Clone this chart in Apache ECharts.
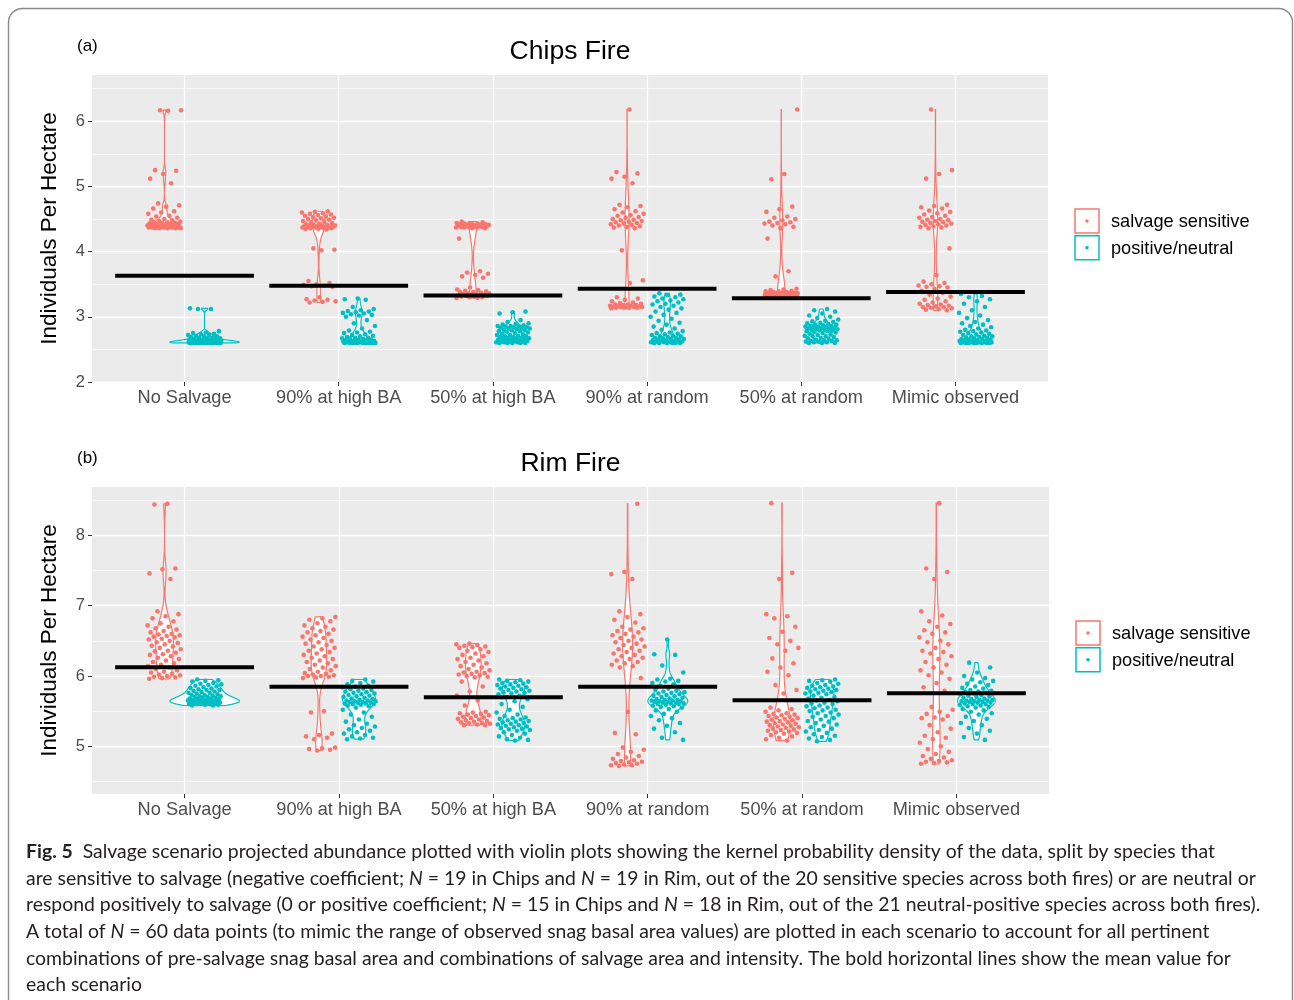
<!DOCTYPE html>
<html><head><meta charset="utf-8">
<script src="https://cdn.jsdelivr.net/npm/echarts@6/dist/echarts.min.js"></script>
<style>html,body{margin:0;padding:0;background:#fff}#c{width:1294px;height:1000px}</style>
</head><body><div id="c"></div>
<script>
// ---------------- DATA ----------------
const scenarios = ['No Salvage','90% at high BA','50% at high BA','90% at random','50% at random','Mimic observed'];
const groups = ['salvage sensitive','positive/neutral'];
const groupColors = ['#F8766D','#00BFC4'];
const chipsYTicks = [2,3,4,5,6];
const chipsYMinor = [2.5,3.5,4.5,5.5,6.5];
const rimYTicks = [5,6,7,8];
const rimYMinor = [4.5,5.5,6.5,7.5,8.5];

// Chips Fire, salvage sensitive species (60 values per scenario)
const chipsSensitive = [
 [6.17,6.17,6.16,5.25,5.24,5.19,5.12,5.05,4.74,4.71,4.69,4.66,4.62,4.60,4.58,4.55,4.54,4.52,4.50,4.49,4.48,4.47,4.46,4.45,4.45,4.44,4.44,4.43,4.43,4.42,4.42,4.41,4.41,4.41,4.40,4.40,4.40,4.40,4.39,4.39,4.39,4.39,4.38,4.38,4.38,4.38,4.38,4.37,4.37,4.37,4.37,4.37,4.37,4.37,4.37,4.36,4.36,4.36,4.36,4.36],
 [4.62,4.61,4.60,4.59,4.58,4.57,4.56,4.55,4.54,4.53,4.52,4.51,4.50,4.49,4.48,4.47,4.46,4.45,4.44,4.43,4.42,4.41,4.41,4.40,4.40,4.40,4.39,4.39,4.39,4.38,4.38,4.38,4.38,4.37,4.37,4.37,4.37,4.36,4.36,4.36,4.35,4.35,4.34,4.05,4.03,4.02,3.55,3.52,3.50,3.49,3.48,3.47,3.46,3.30,3.27,3.26,3.25,3.24,3.23,3.22],
 [4.46,4.45,4.44,4.44,4.43,4.43,4.42,4.42,4.42,4.41,4.41,4.41,4.40,4.40,4.40,4.40,4.39,4.39,4.39,4.39,4.38,4.38,4.38,4.38,4.37,4.37,4.37,4.36,4.36,4.20,3.70,3.68,3.66,3.64,3.62,3.60,3.45,3.42,3.41,3.40,3.39,3.38,3.38,3.37,3.36,3.36,3.35,3.35,3.34,3.34,3.33,3.33,3.32,3.32,3.31,3.31,3.30,3.30,3.29,3.29],
 [6.18,5.22,5.20,5.15,5.12,5.05,4.72,4.70,4.68,4.65,4.62,4.60,4.58,4.56,4.55,4.53,4.52,4.50,4.49,4.48,4.47,4.46,4.45,4.44,4.43,4.42,4.41,4.40,4.39,4.38,4.37,4.36,4.02,3.56,3.52,3.30,3.28,3.26,3.24,3.22,3.21,3.20,3.19,3.19,3.18,3.18,3.17,3.17,3.16,3.16,3.16,3.15,3.15,3.15,3.15,3.14,3.14,3.14,3.14,3.13],
 [6.18,5.19,5.11,4.69,4.65,4.61,4.54,4.52,4.50,4.48,4.46,4.45,4.44,4.43,4.42,4.40,4.38,4.36,4.20,3.70,3.62,3.43,3.42,3.41,3.40,3.39,3.39,3.38,3.38,3.37,3.37,3.37,3.36,3.36,3.36,3.36,3.35,3.35,3.35,3.35,3.35,3.34,3.34,3.34,3.34,3.34,3.34,3.34,3.33,3.33,3.33,3.33,3.33,3.33,3.32,3.32,3.32,3.31,3.31,3.30],
 [6.18,5.25,5.19,5.12,4.72,4.70,4.68,4.66,4.63,4.61,4.59,4.57,4.55,4.53,4.52,4.50,4.49,4.48,4.47,4.46,4.45,4.44,4.43,4.42,4.41,4.40,4.39,4.38,4.37,4.36,4.05,3.64,3.54,3.52,3.50,3.48,3.47,3.46,3.45,3.43,3.40,3.37,3.34,3.31,3.28,3.26,3.24,3.22,3.20,3.19,3.18,3.17,3.16,3.15,3.15,3.14,3.13,3.12,3.11,3.10]
];
// Chips Fire, positive/neutral species
const chipsPositive = [
 [3.13,3.12,3.12,2.78,2.76,2.75,2.74,2.73,2.72,2.72,2.71,2.70,2.70,2.69,2.68,2.68,2.67,2.67,2.66,2.66,2.65,2.65,2.65,2.64,2.64,2.64,2.63,2.63,2.63,2.63,2.62,2.62,2.62,2.62,2.62,2.61,2.61,2.61,2.61,2.61,2.61,2.61,2.61,2.61,2.60,2.60,2.60,2.60,2.60,2.60,2.60,2.60,2.60,2.60,2.60,2.60,2.60,2.60,2.60,2.60],
 [3.28,3.27,3.26,3.15,3.12,3.10,3.09,3.08,3.07,3.06,3.05,3.04,3.03,3.02,3.00,2.95,2.90,2.86,2.82,2.79,2.77,2.76,2.75,2.73,2.72,2.71,2.70,2.69,2.68,2.68,2.67,2.66,2.66,2.65,2.65,2.64,2.64,2.63,2.63,2.63,2.62,2.62,2.62,2.62,2.61,2.61,2.61,2.61,2.61,2.60,2.60,2.60,2.60,2.60,2.60,2.60,2.60,2.60,2.60,2.60],
 [3.08,3.07,3.05,2.95,2.92,2.90,2.89,2.88,2.87,2.86,2.86,2.85,2.85,2.84,2.84,2.83,2.83,2.82,2.82,2.81,2.80,2.80,2.79,2.78,2.78,2.77,2.76,2.75,2.74,2.73,2.72,2.72,2.71,2.70,2.70,2.69,2.69,2.68,2.68,2.67,2.67,2.66,2.66,2.65,2.65,2.64,2.64,2.63,2.63,2.62,2.62,2.62,2.61,2.61,2.61,2.60,2.60,2.60,2.60,2.60],
 [3.36,3.34,3.33,3.31,3.30,3.28,3.27,3.25,3.24,3.22,3.20,3.19,3.17,3.15,3.13,3.11,3.08,3.06,3.03,3.00,2.97,2.94,2.91,2.88,2.85,2.82,2.80,2.78,2.76,2.75,2.74,2.73,2.72,2.71,2.70,2.70,2.69,2.68,2.68,2.67,2.66,2.66,2.65,2.65,2.64,2.64,2.63,2.63,2.62,2.62,2.62,2.61,2.61,2.61,2.60,2.60,2.60,2.60,2.60,2.60],
 [3.12,3.10,3.08,3.05,3.02,3.00,2.98,2.96,2.94,2.93,2.92,2.91,2.90,2.89,2.88,2.88,2.87,2.86,2.86,2.85,2.85,2.84,2.84,2.83,2.83,2.82,2.82,2.81,2.81,2.80,2.80,2.79,2.79,2.78,2.78,2.77,2.76,2.75,2.74,2.73,2.72,2.71,2.70,2.70,2.69,2.68,2.67,2.66,2.65,2.64,2.64,2.63,2.63,2.62,2.62,2.61,2.61,2.60,2.60,2.60],
 [3.35,3.32,3.30,3.27,3.24,3.20,3.15,3.10,3.06,3.02,2.98,2.95,2.92,2.90,2.88,2.86,2.84,2.82,2.80,2.79,2.78,2.77,2.76,2.75,2.74,2.73,2.72,2.71,2.70,2.70,2.69,2.68,2.68,2.67,2.66,2.66,2.65,2.65,2.64,2.64,2.63,2.63,2.63,2.62,2.62,2.62,2.62,2.61,2.61,2.61,2.61,2.61,2.60,2.60,2.60,2.60,2.60,2.60,2.60,2.60]
];
// Rim Fire, salvage sensitive species
const rimSensitive = [
 [8.45,8.44,7.53,7.52,7.46,7.38,6.92,6.88,6.85,6.82,6.78,6.75,6.72,6.70,6.68,6.66,6.64,6.62,6.60,6.59,6.58,6.57,6.56,6.55,6.53,6.52,6.50,6.48,6.47,6.45,6.43,6.42,6.40,6.38,6.36,6.35,6.33,6.31,6.30,6.28,6.26,6.24,6.22,6.20,6.18,6.16,6.14,6.12,6.10,6.08,6.06,6.05,6.03,6.02,6.01,6.00,5.99,5.98,5.97,5.96],
 [6.84,6.82,6.80,6.78,6.75,6.72,6.70,6.68,6.66,6.64,6.62,6.60,6.58,6.56,6.54,6.52,6.50,6.48,6.46,6.44,6.42,6.40,6.38,6.36,6.34,6.32,6.30,6.28,6.26,6.24,6.22,6.20,6.18,6.16,6.14,6.12,6.10,6.08,6.06,6.04,6.03,6.02,6.01,6.00,6.00,5.99,5.98,5.97,5.50,5.48,5.18,5.16,5.14,5.12,5.10,4.98,4.97,4.96,4.95,4.94],
 [6.46,6.45,6.44,6.43,6.42,6.41,6.40,6.38,6.36,6.34,6.32,6.30,6.28,6.26,6.24,6.22,6.20,6.18,6.16,6.14,6.12,6.10,6.08,6.06,6.05,6.04,6.03,6.02,6.01,6.00,5.99,5.98,5.92,5.85,5.78,5.72,5.65,5.58,5.49,5.48,5.47,5.46,5.45,5.44,5.43,5.42,5.41,5.40,5.39,5.38,5.37,5.36,5.35,5.34,5.33,5.33,5.32,5.31,5.30,5.30],
 [8.45,7.48,7.45,7.38,6.92,6.88,6.84,6.80,6.76,6.70,6.68,6.66,6.64,6.62,6.60,6.58,6.56,6.54,6.52,6.50,6.48,6.46,6.44,6.42,6.40,6.38,6.36,6.34,6.32,6.30,6.28,6.26,6.24,6.22,6.20,6.18,6.16,6.14,6.12,5.97,5.49,5.19,5.17,4.98,4.95,4.92,4.89,4.86,4.84,4.82,4.80,4.79,4.78,4.77,4.76,4.75,4.74,4.73,4.73,4.72],
 [8.46,7.47,7.38,6.88,6.85,6.82,6.70,6.63,6.54,6.50,6.45,6.40,6.36,6.25,6.18,6.12,6.06,6.01,5.87,5.80,5.75,5.55,5.53,5.51,5.49,5.47,5.46,5.45,5.44,5.43,5.42,5.41,5.40,5.39,5.38,5.37,5.36,5.35,5.34,5.33,5.32,5.31,5.30,5.29,5.28,5.27,5.26,5.25,5.24,5.23,5.22,5.21,5.20,5.19,5.18,5.16,5.14,5.12,5.10,5.08],
 [8.46,7.53,7.48,7.38,6.92,6.86,6.78,6.74,6.70,6.65,6.62,6.60,6.55,6.50,6.48,6.45,6.40,6.36,6.34,6.32,6.28,6.24,6.20,6.16,6.12,6.08,6.05,6.01,5.96,5.90,5.84,5.79,5.56,5.52,5.49,5.46,5.43,5.41,5.40,5.38,5.30,5.25,5.20,5.15,5.12,5.10,5.05,5.00,4.96,4.92,4.89,4.86,4.84,4.82,4.80,4.79,4.78,4.77,4.76,4.75]
];
// Rim Fire, positive/neutral species
const rimPositive = [
 [5.95,5.94,5.93,5.92,5.90,5.89,5.88,5.87,5.86,5.85,5.84,5.83,5.82,5.81,5.80,5.80,5.79,5.78,5.77,5.76,5.76,5.75,5.74,5.73,5.73,5.72,5.71,5.71,5.70,5.70,5.69,5.69,5.68,5.68,5.67,5.67,5.66,5.66,5.65,5.65,5.65,5.64,5.64,5.64,5.63,5.63,5.63,5.62,5.62,5.62,5.61,5.61,5.61,5.60,5.60,5.60,5.59,5.59,5.58,5.58],
 [5.95,5.93,5.92,5.90,5.88,5.86,5.85,5.84,5.82,5.81,5.80,5.79,5.78,5.77,5.76,5.75,5.74,5.73,5.72,5.71,5.70,5.69,5.68,5.67,5.66,5.65,5.65,5.64,5.64,5.63,5.63,5.62,5.62,5.61,5.61,5.60,5.60,5.59,5.58,5.57,5.55,5.52,5.48,5.45,5.42,5.38,5.35,5.32,5.30,5.28,5.26,5.24,5.22,5.20,5.18,5.16,5.14,5.12,5.11,5.10],
 [5.95,5.94,5.93,5.92,5.91,5.90,5.89,5.88,5.87,5.86,5.85,5.84,5.83,5.82,5.81,5.80,5.79,5.78,5.77,5.76,5.75,5.74,5.72,5.70,5.67,5.64,5.60,5.56,5.52,5.48,5.45,5.43,5.41,5.40,5.39,5.38,5.37,5.36,5.35,5.34,5.33,5.32,5.31,5.30,5.29,5.28,5.27,5.26,5.25,5.24,5.23,5.22,5.20,5.18,5.16,5.14,5.12,5.10,5.09,5.08],
 [6.52,6.31,6.30,6.15,6.05,5.96,5.95,5.93,5.92,5.90,5.88,5.86,5.84,5.82,5.80,5.79,5.78,5.77,5.76,5.75,5.74,5.73,5.72,5.71,5.70,5.69,5.68,5.67,5.66,5.66,5.65,5.65,5.64,5.64,5.63,5.63,5.62,5.62,5.61,5.61,5.60,5.60,5.59,5.58,5.57,5.56,5.55,5.53,5.51,5.49,5.46,5.43,5.40,5.37,5.33,5.29,5.25,5.20,5.12,5.09],
 [5.95,5.94,5.93,5.92,5.90,5.89,5.87,5.86,5.85,5.84,5.83,5.82,5.81,5.80,5.79,5.78,5.77,5.76,5.75,5.74,5.72,5.70,5.69,5.68,5.66,5.65,5.64,5.62,5.61,5.60,5.58,5.57,5.55,5.54,5.52,5.51,5.50,5.48,5.47,5.45,5.43,5.42,5.40,5.38,5.36,5.35,5.33,5.31,5.29,5.27,5.25,5.23,5.21,5.19,5.17,5.15,5.13,5.11,5.09,5.07],
 [6.19,6.12,6.05,6.00,5.97,5.95,5.93,5.91,5.89,5.87,5.85,5.83,5.82,5.80,5.79,5.78,5.77,5.76,5.75,5.74,5.73,5.72,5.71,5.70,5.69,5.68,5.67,5.66,5.66,5.65,5.65,5.64,5.64,5.63,5.63,5.62,5.62,5.61,5.60,5.60,5.59,5.58,5.57,5.56,5.55,5.53,5.51,5.49,5.47,5.45,5.42,5.39,5.36,5.33,5.30,5.26,5.22,5.18,5.13,5.09]
];

const captionLines = [
 '{b|Fig. 5}  Salvage scenario projected abundance plotted with violin plots showing the kernel probability density of the data, split by species that',
 'are sensitive to salvage (negative coefficient; {i|N} = 19 in Chips and {i|N} = 19 in Rim, out of the 20 sensitive species across both fires) or are neutral or',
 'respond positively to salvage (0 or positive coefficient; {i|N} = 15 in Chips and {i|N} = 18 in Rim, out of the 21 neutral-positive species across both fires).',
 'A total of {i|N} = 60 data points (to mimic the range of observed snag basal area values) are plotted in each scenario to account for all pertinent',
 'combinations of pre-salvage snag basal area and combinations of salvage area and intensity. The bold horizontal lines show the mean value for',
 'each scenario'
];

// ---------------- HELPERS ----------------
const FONT = '"Liberation Sans", Arial, Helvetica, sans-serif';
const CAPFONT = 'Lato, "Open Sans", sans-serif';
function quantile(s, p){ const h=(s.length-1)*p, lo=Math.floor(h), hi=Math.ceil(h); return s[lo]+(h-lo)*(s[hi]-s[lo]); }
function bwNrd0(v){
  const n=v.length, m=v.reduce((a,b)=>a+b,0)/n;
  const sd=Math.sqrt(v.reduce((a,b)=>a+(b-m)*(b-m),0)/(n-1));
  const s=[...v].sort((a,b)=>a-b);
  const iqr=quantile(s,0.75)-quantile(s,0.25);
  let lo=Math.min(sd, iqr/1.34);
  if(!(lo>0)) lo = sd || 1;
  return 0.9*lo*Math.pow(n,-0.2);
}
function kde(v){
  const bw=bwNrd0(v), mn=Math.min(...v), mx=Math.max(...v), K=300, out=[];
  for(let k=0;k<K;k++){
    const y=mn+(mx-mn)*k/(K-1); let d=0;
    for(const x of v){ const z=(y-x)/bw; d+=Math.exp(-0.5*z*z); }
    out.push([y, d/(v.length*bw*Math.sqrt(2*Math.PI))]);
  }
  return out;
}
const mean = a => a.reduce((s,x)=>s+x,0)/a.length;
const DODGE = 0.13, VHALF = 0.225, JIT = 0.11, MEANHALF = 0.45;
function jitter(k){ return (((k*0.6180339887 + 0.37) % 1) - 0.5) * 2 * JIT; }

const panels = [
  {tag:'(a)', title:'Chips Fire', groupsData:[chipsSensitive, chipsPositive], yMin:2, yMax:6.71, ticks:chipsYTicks, minor:chipsYMinor, top:75, height:307, left:92, width:956},
  {tag:'(b)', title:'Rim Fire', groupsData:[rimSensitive, rimPositive], yMin:4.32, yMax:8.69, ticks:rimYTicks, minor:rimYMinor, top:487, height:307, left:92, width:957}
];

const grid=[], xAxis=[], yAxis=[], series=[], graphic=[];
panels.forEach((p, pi) => {
  grid.push({left:p.left, top:p.top, width:p.width, height:p.height, show:true, backgroundColor:'#EBEBEB', borderWidth:0, containLabel:false, outerBoundsMode:'none'});
  const catVals = scenarios.map((s,i)=>i+1);
  xAxis.push({type:'value', gridIndex:pi, min:0.4, max:6.6,
    axisLine:{show:false},
    axisTick:{show:true, length:4, customValues:catVals, lineStyle:{color:'#333333', width:1}},
    axisLabel:{customValues:catVals, formatter:v=>scenarios[Math.round(v)-1], color:'#4D4D4D', fontSize:18.2, fontFamily:FONT, margin:7},
    splitLine:{show:true, lineStyle:{color:'#FFFFFF', width:1.3}}});
  yAxis.push({type:'value', gridIndex:pi, min:p.yMin, max:p.yMax,
    axisLine:{show:false},
    axisTick:{show:true, length:4, customValues:p.ticks, lineStyle:{color:'#333333', width:1}},
    axisLabel:{customValues:p.ticks, color:'#4D4D4D', fontSize:16.5, fontFamily:FONT, margin:7},
    splitLine:{show:true, lineStyle:{color:'#FFFFFF', width:1.3}},
    name:'Individuals Per Hectare', nameLocation:'middle', nameGap:31, nameRotate:90,
    nameTextStyle:{color:'#000', fontSize:22.5, fontFamily:FONT}});
  yAxis.push({type:'value', gridIndex:pi, min:p.yMin, max:p.yMax, position:'left',
    axisLine:{show:false}, axisLabel:{show:false},
    axisTick:{show:false, customValues:p.minor},
    splitLine:{show:true, lineStyle:{color:'#FFFFFF', width:0.6}}});
  const yi = pi*2;
  // violins (kernel density of each group's values, trimmed to the data range)
  const violins=[];
  p.groupsData.forEach((gd, g) => gd.forEach((vals, i) => {
    violins.push({x: i+1 + (g===0?-DODGE:DODGE), curve: kde(vals), color: groupColors[g], mid: mean(vals)});
  }));
  const maxD = Math.max(...violins.map(v=>Math.max(...v.curve.map(c=>c[1]))));
  series.push({type:'custom', name:'violins'+pi, xAxisIndex:pi, yAxisIndex:yi, z:2, silent:true, clip:false,
    data: violins.map(v=>[v.x, v.mid]),
    renderItem:(params, api)=>{
      const v = violins[params.dataIndex];
      const right = v.curve.map(([y,d])=>api.coord([v.x + d/maxD*VHALF, y]));
      const left = v.curve.slice().reverse().map(([y,d])=>api.coord([v.x - d/maxD*VHALF, y]));
      return {type:'polygon', shape:{points:right.concat(left)}, style:{fill:'#FFFFFF', stroke:v.color, lineWidth:1.2}};
    }});
  // jittered points
  p.groupsData.forEach((gd, g) => {
    const data=[];
    gd.forEach((vals, i) => vals.forEach((val, j) => {
      data.push([i+1 + (g===0?-DODGE:DODGE) + jitter(j + 61*(i*2+g) + 400*pi), val]);
    }));
    series.push({type:'scatter', name:groups[g], xAxisIndex:pi, yAxisIndex:yi, z:3, silent:true,
      symbol:'circle', symbolSize:4.6, itemStyle:{color:groupColors[g], opacity:1}, data});
  });
  // mean lines (mean of all values in the scenario)
  const means = scenarios.map((s,i)=>[i+1, mean(p.groupsData[0][i].concat(p.groupsData[1][i]))]);
  series.push({type:'custom', name:'mean'+pi, xAxisIndex:pi, yAxisIndex:yi, z:4, silent:true, clip:false, data:means,
    renderItem:(params, api)=>{
      const x=api.value(0), m=api.value(1);
      const a=api.coord([x-MEANHALF, m]), b=api.coord([x+MEANHALF, m]);
      return {type:'line', shape:{x1:a[0], y1:a[1], x2:b[0], y2:b[1]}, style:{stroke:'#000', lineWidth:4}};
    }});
  // titles
  graphic.push({type:'text', left:77, top:p.top-37, style:{text:p.tag, fontSize:17, fontFamily:FONT, fill:'#000'}});
  graphic.push({type:'text', x:p.left+p.width/2, y:p.top-23, style:{text:p.title, fontSize:26.5, fontFamily:FONT, fill:'#000', align:'center', verticalAlign:'middle'}});
  // legend
  groups.forEach((gname, g) => {
    const ky = p.top + 134 + g*26.7;
    graphic.push({type:'rect', shape:{x:1075+pi, y:ky, width:24, height:24}, style:{fill:'#FFFFFF', stroke:groupColors[g], lineWidth:1.5}});
    graphic.push({type:'circle', shape:{cx:1087+pi, cy:ky+12, r:1.8}, style:{fill:groupColors[g]}});
    graphic.push({type:'text', x:1111+pi, y:ky+13, style:{text:gname, fontSize:18.2, fontFamily:FONT, fill:'#000', verticalAlign:'middle'}});
  });
});

// caption: pick a font size that fits the measured widths of the lines
const cv = document.createElement('canvas').getContext('2d');
const targets = [1202, 1226, 1231, 1192, 1213];
const ratios = targets.map((t, i) => {
  const plain = captionLines[i].replace(/\{[bi]\|([^}]*)\}/g, '$1');
  cv.font = '100px ' + CAPFONT;
  return t / cv.measureText(plain).width * 100;
}).sort((a,b)=>a-b);
const capSize = (ratios[1] + ratios[2]) / 2;
const capY = [852, 878.6, 905.2, 931.8, 958.4, 985];
captionLines.forEach((line, i) => {
  graphic.push({type:'text', x:26, y:capY[i], style:{text:line, fontSize:capSize, fontFamily:CAPFONT, fill:'#231F20', verticalAlign:'middle',
    rich:{b:{fontWeight:'bold', fontSize:capSize, fontFamily:CAPFONT, fill:'#231F20'}, i:{fontStyle:'italic', fontSize:capSize, fontFamily:CAPFONT, fill:'#231F20'}}}});
});
// figure frame
graphic.push({type:'rect', z:-1, shape:{x:8.5, y:8.5, width:1284, height:1100, r:14}, style:{fill:'none', stroke:'#8A8A8A', lineWidth:1.4}});

const chart = echarts.init(document.getElementById('c'), null, {renderer:'canvas'});
chart.setOption({animation:false, backgroundColor:'#FFFFFF', grid, xAxis, yAxis, series, graphic, tooltip:{show:false}});
</script></body></html>
